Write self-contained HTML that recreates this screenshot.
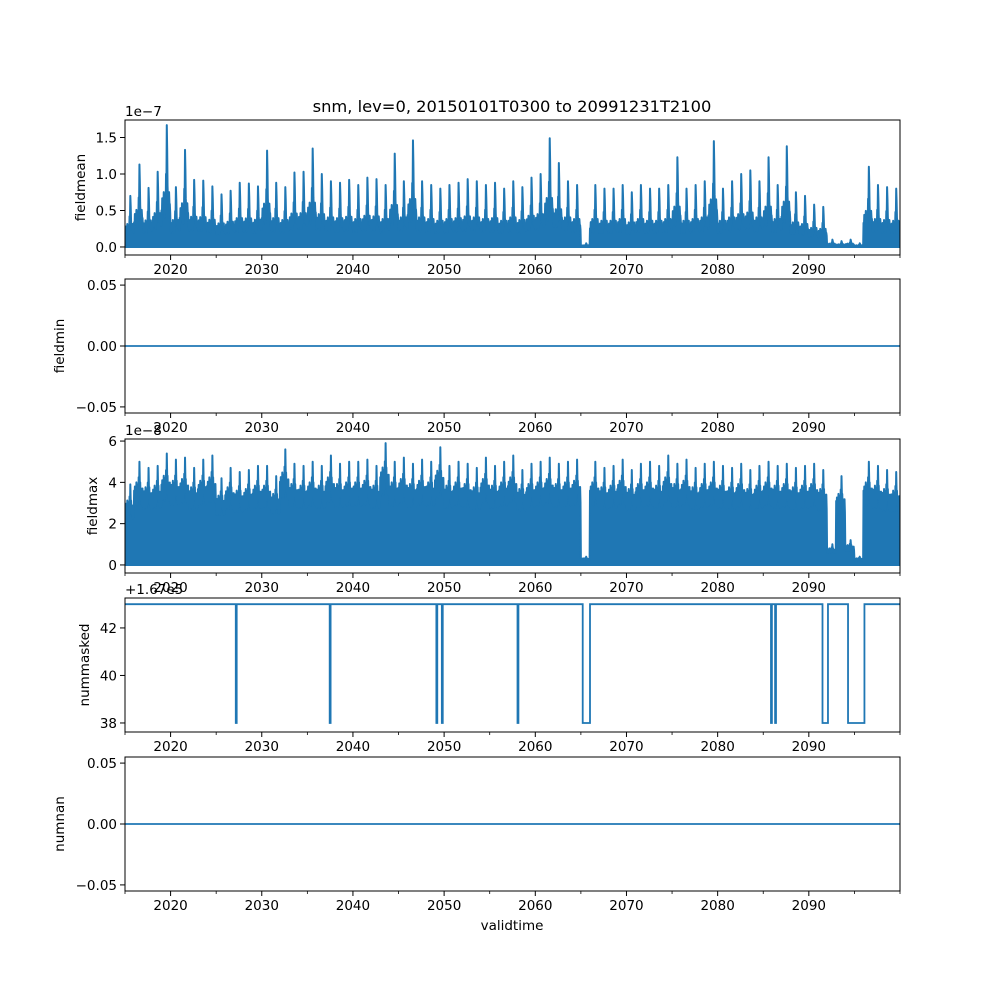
<!DOCTYPE html>
<html><head><meta charset="utf-8">
<style>
html,body{margin:0;padding:0;background:#fff;}
svg{display:block;font-family:"DejaVu Sans","Liberation Sans",sans-serif;}
</style></head>
<body>
<svg id="fig" width="1000" height="1000" viewBox="0 0 1000 1000" xmlns="http://www.w3.org/2000/svg">
<rect width="1000" height="1000" fill="#fff"/>
<text x="512" y="112" font-size="16.3" text-anchor="middle">snm, lev=0, 20150101T0300 to 20991231T2100</text>
<g id="root"></g>
<text x="512" y="930" font-size="13.5" text-anchor="middle">validtime</text>
</svg>
<script>
// ---- data ----
const years = [];
for (let y = 2015; y <= 2099; y++) years.push(y);
const meanPeaks = [0.70,1.13,0.81,1.03,1.67,0.82,1.33,0.92,0.91,0.83,0.72,0.77,0.88,0.87,0.83,1.32,0.88,0.82,1.02,1.03,1.35,1.00,0.90,0.88,0.92,0.85,0.95,0.93,0.85,1.28,0.90,1.46,0.90,0.85,0.80,0.85,0.88,0.93,0.90,0.85,0.88,0.80,0.90,0.82,0.95,1.00,1.49,1.15,0.90,0.85,0.05,0.85,0.80,0.80,0.85,0.75,0.85,0.80,0.80,0.85,1.23,0.80,0.85,0.90,1.45,0.80,0.90,1.00,1.05,0.90,1.23,0.85,1.38,0.75,0.70,0.58,0.55,0.10,0.08,0.10,0.05,1.10,0.85,0.82,0.80];
const maxPeaks = [3.9,5.0,4.7,4.8,5.4,5.1,5.2,4.7,5.1,5.3,4.2,4.7,4.5,4.6,4.8,4.8,4.3,5.6,4.9,4.8,5.0,4.8,5.3,4.9,5.0,5.0,5.1,4.8,5.9,5.0,5.2,4.9,5.1,5.0,5.7,4.8,5.0,4.9,4.7,5.2,4.8,5.0,5.3,4.6,4.9,5.0,5.2,4.9,5.0,5.1,0.4,5.0,4.7,4.8,5.1,4.6,4.9,5.0,4.8,5.3,4.9,5.1,4.7,4.9,5.0,4.8,4.7,4.9,4.6,4.8,5.0,4.8,4.9,4.7,4.8,4.9,4.6,1.0,4.3,1.2,0.4,5.0,4.8,4.6,4.5];
const maskedBase = 43;
const maskedDropStart = [2027.15,2037.45,2049.15,2049.75,2058.05,2065.2,2085.85,2086.3,2091.5,2094.3];
const maskedDropEnd   = [2027.25,2037.55,2049.25,2049.85,2058.15,2066.0,2085.95,2086.4,2092.1,2096.1];
const maskedLow = 38;
const xTicks = [2020,2030,2040,2050,2060,2070,2080,2090];
const xMinor = [2015,2025,2035,2045,2055,2065,2075,2085,2095,2100];

// ---- layout ----
const X0=125,X1=900,XMIN=2015,XMAX=2100;
const sx = t => X0 + (t-XMIN)/(XMAX-XMIN)*(X1-X0);
const C="#1f77b4";
const NS="http://www.w3.org/2000/svg";
const root=document.getElementById('root');
function el(tag,attrs,parent){const e=document.createElementNS(NS,tag);for(const k in attrs)e.setAttribute(k,attrs[k]);(parent||root).appendChild(e);return e;}
function txt(s,attrs,parent){const e=el('text',attrs,parent);e.textContent=s;return e;}

const panels=[
 {name:'fieldmean',top:120,bot:255,ymin:-0.11,ymax:1.74,ticks:[0,0.5,1.0,1.5],fmt:v=>v.toFixed(1),off:'1e\u22127'},
 {name:'fieldmin',top:279,bot:413,ymin:-0.055,ymax:0.055,ticks:[-0.05,0,0.05],fmt:v=>(v<0?'\u2212':'')+Math.abs(v).toFixed(2)},
 {name:'fieldmax',top:439,bot:573,ymin:-0.39,ymax:6.1,ticks:[0,2,4,6],fmt:v=>String(v),off:'1e\u22128'},
 {name:'nummasked',top:598,bot:732,ymin:37.62,ymax:43.26,ticks:[38,40,42],fmt:v=>String(v),off:'+1.67e5'},
 {name:'numnan',top:757,bot:891,ymin:-0.055,ymax:0.055,ticks:[-0.05,0,0.05],fmt:v=>(v<0?'\u2212':'')+Math.abs(v).toFixed(2)}
];
const meanShape=[0.3,0.4,0.35,0.45,0.3,0.4,0.6,1.0,0.5,0.4,0.45,0.35];
const maxShape=[0.72,0.76,0.74,0.8,0.72,0.78,0.85,1.0,0.8,0.74,0.72,0.74];

panels.forEach((p,i)=>{
  const g=el('g',{});
  
  
  const sy=v=>p.bot-(v-p.ymin)/(p.ymax-p.ymin)*(p.bot-p.top);
  const clipId='c'+i;
  const cp=el('clipPath',{id:clipId},g);el('rect',{x:X0,y:p.top,width:X1-X0,height:p.bot-p.top},cp);
  const dg=el('g',{'clip-path':'url(#'+clipId+')'},g);
  if(p.name==='fieldmean'||p.name==='fieldmax'){
    const peaks=p.name==='fieldmean'?meanPeaks:maxPeaks;
    const shape=p.name==='fieldmean'?meanShape:maxShape;
    let d='M'+sx(XMIN)+','+sy(0);
    years.forEach((y,k)=>{
      shape.forEach((f,m)=>{
        const t=y+m/12, t2=y+(m+0.5)/12;
        d+=' L'+sx(t).toFixed(2)+','+sy(peaks[k]*f).toFixed(2)+' L'+sx(t2).toFixed(2)+','+sy(peaks[k]*f*0.8).toFixed(2);
      });
    });
    d+=' L'+sx(XMAX)+','+sy(0)+' Z';
    const path=el('path',{d:d,fill:C,stroke:C,'stroke-width':2,'stroke-linejoin':'round'},dg);
    
    
  } else if(p.name==='nummasked'){
    let d='M'+sx(XMIN)+','+sy(maskedBase);
    maskedDropStart.forEach((s,k)=>{
      const e=maskedDropEnd[k];
      d+=' L'+sx(s).toFixed(2)+','+sy(maskedBase)+' L'+sx(s).toFixed(2)+','+sy(maskedLow)+' L'+sx(e).toFixed(2)+','+sy(maskedLow)+' L'+sx(e).toFixed(2)+','+sy(maskedBase);
    });
    d+=' L'+sx(XMAX)+','+sy(maskedBase);
    const path=el('path',{d:d,fill:'none',stroke:C,'stroke-width':1.8},dg);
    
    
  } else {
    const ln=el('line',{x1:X0,x2:X1,y1:sy(0),y2:sy(0),stroke:C,'stroke-width':1.8},dg);
    
    
  }
  el('rect',{x:X0,y:p.top,width:X1-X0,height:p.bot-p.top,fill:'none',stroke:'#000','stroke-width':1},g);
  p.ticks.forEach(v=>{
    const y=sy(v);
    el('line',{x1:X0-5,x2:X0,y1:y,y2:y,stroke:'#000','stroke-width':1},g);
    const t=txt(p.fmt(v),{x:X0-8,y:y+5,'font-size':13.5,'text-anchor':'end'},g);
    
    
  });
  xTicks.forEach(v=>{
    el('line',{x1:sx(v),x2:sx(v),y1:p.bot,y2:p.bot+5,stroke:'#000','stroke-width':1},g);
    const t=txt(String(v),{x:sx(v),y:p.bot+19,'font-size':13.5,'text-anchor':'middle'},g);
    
    
  });
  xMinor.forEach(v=>el('line',{x1:sx(v),x2:sx(v),y1:p.bot,y2:p.bot+3,stroke:'#000','stroke-width':0.8},g));
  const yl=txt(p.name,{x:0,y:0,'font-size':13.5,'text-anchor':'middle',transform:'translate('+(p.name==='fieldmean'?85:(p.name==='fieldmax'?97:(p.name==='nummasked'?89:64)))+','+((p.top+p.bot)/2)+') rotate(-90)'},g);
  
  
  if(p.off){
    const o=txt(p.off,{x:X0,y:p.top-4,'font-size':13.5},g);
    
    
  }
});
</script>
</body></html>
